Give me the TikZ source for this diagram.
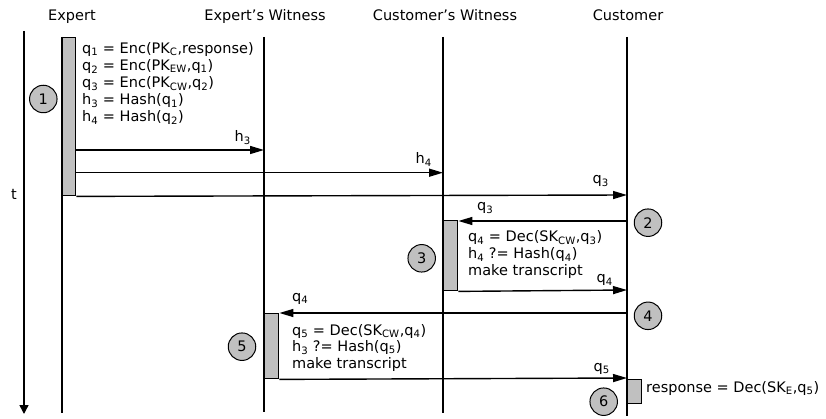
\documentclass[tikz,border=0pt]{standalone}
\usepackage{fontspec}
\setmainfont{DejaVu Sans}
\usetikzlibrary{arrows.meta}
\definecolor{boxgray}{RGB}{192,192,192}
\newcommand\sbs[1]{\textsubscript{#1}}
\begin{document}
\begin{tikzpicture}[x=1pt,y=-1pt,
  every node/.style={font=\fontsize{14.5}{17}\selectfont},
  wire/.style={line width=1.4pt},
  msg/.style={wire,-{Triangle[length=14pt,width=8pt]}},
  timeaxis/.style={wire,-{Triangle[length=9pt,width=9pt]}},
  actbox/.style={draw, line width=1.4pt, fill=boxgray, inner sep=0, anchor=north west},
  stepno/.style={circle, draw, line width=1pt, fill=boxgray, minimum size=27.5pt, inner sep=0},
  txt/.style={inner sep=0, anchor=base west},
  lblr/.style={inner sep=0, anchor=base east},
  lbll/.style={inner sep=0, anchor=base west},
  head/.style={inner sep=0, anchor=base}]
\useasboundingbox (0,0) rectangle (826,419);

% participants
\node[head] (hE)  at (72,20.7)  {Expert};
\node[head] (hEW) at (265,20.7) {Expert’s Witness};
\node[head] (hCW) at (445,20.7) {Customer’s Witness};
\node[head] (hC)  at (628,20.7) {Customer};

% lifeline ends
\coordinate (Etop)  at (62,37);   \coordinate (Ebot)  at (62,413);
\coordinate (EWtop) at (264,37);  \coordinate (EWbot) at (264,412);
\coordinate (CWtop) at (443,37);  \coordinate (CWbot) at (443,413);
\coordinate (Ctop)  at (627,37);  \coordinate (Cbot)  at (627,416);
\draw[wire] (Etop) -- (Ebot);
\draw[wire] (EWtop) -- (EWbot);
\draw[wire] (CWtop) -- (CWbot);
\draw[wire] (Ctop) -- (Cbot);

% time axis
\coordinate (t0) at (24,31); \coordinate (t1) at (24,414);
\draw[timeaxis] (t0) -- (t1);
\node[inner sep=0, anchor=base] (tlab) at (14,200) {t};

% activations
\node[actbox, minimum width=13pt, minimum height=158pt] (b1) at (62,37) {};
\node[actbox, minimum width=14pt, minimum height=70pt]  (b3) at (443,220) {};
\node[actbox, minimum width=14pt, minimum height=65pt]  (b5) at (264,313) {};
\node[actbox, minimum width=14pt, minimum height=24pt]  (b6) at (627,379) {};

% step 1: expert prepares the queries
\node[txt] (s1a) at (82,53.3)  {q\sbs{1} = Enc(PK\sbs{C},response)};
\node[txt] (s1b) at (82,70.5)  {q\sbs{2} = Enc(PK\sbs{EW},q\sbs{1})};
\node[txt] (s1c) at (82,87.7)  {q\sbs{3} = Enc(PK\sbs{CW},q\sbs{2})};
\node[txt] (s1d) at (82,104.6) {h\sbs{3} = Hash(q\sbs{1})};
\node[txt] (s1e) at (82,121.7) {h\sbs{4} = Hash(q\sbs{2})};

\coordinate (m1) at (264,150);
\draw[msg] (b1.east |- m1) -- (m1);
\node[lblr] (l1) at (251,142) {h\sbs{3}};
\coordinate (m2) at (443,172.7);
\draw[msg] (b1.east |- m2) -- (m2);
\node[lblr] (l2) at (432,164) {h\sbs{4}};
\coordinate (m3) at (627,195);
\draw[msg] (b1.south east) -- (m3);
\node[lblr] (l3) at (609,184) {q\sbs{3}};

% step 2 and 3: customer's witness
\coordinate (m4) at (627,221);
\draw[msg] (m4) -- (b3.east |- m4);
\node[lbll] (l4) at (477,211) {q\sbs{3}};
\node[txt] (s3a) at (468,241.7) {q\sbs{4} = Dec(SK\sbs{CW},q\sbs{3})};
\node[txt] (s3b) at (468,258.8) {h\sbs{4} ?= Hash(q\sbs{4})};
\node[txt] (s3c) at (468,275.7) {make transcript};
\coordinate (m5) at (627,290);
\draw[msg] (b3.south east) -- (m5);
\node[lblr] (l5) at (613,283) {q\sbs{4}};

% step 4 and 5: expert's witness
\coordinate (m6) at (627,313);
\draw[msg] (m6) -- (b5.north east);
\node[lbll] (l6) at (292,301) {q\sbs{4}};
\node[txt] (s5a) at (292,335)   {q\sbs{5} = Dec(SK\sbs{CW},q\sbs{4})};
\node[txt] (s5b) at (292,351.5) {h\sbs{3} ?= Hash(q\sbs{5})};
\node[txt] (s5c) at (292,368.2) {make transcript};
\coordinate (m7) at (627,378);
\draw[msg] (b5.south east) -- (m7);
\node[lblr] (l7) at (610,371) {q\sbs{5}};

% step 6: customer decrypts
\node[txt] (s6) at (646,392) {response = Dec(SK\sbs{E},q\sbs{5})};

% step numbers
\node[stepno] (n1) at (43.3,99)    {1};
\node[stepno] (n2) at (648,222.7)  {2};
\node[stepno] (n3) at (421.7,258.3){3};
\node[stepno] (n4) at (648,315.8)  {4};
\node[stepno] (n5) at (242,346.7)  {5};
\node[stepno] (n6) at (603.7,401.7){6};
\end{tikzpicture}
\end{document}
